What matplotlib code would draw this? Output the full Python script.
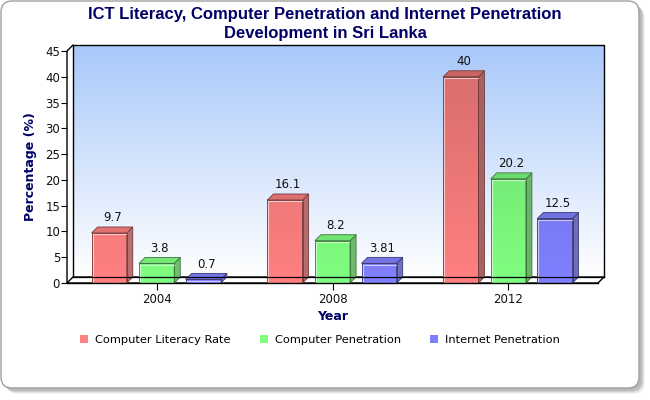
import numpy as np
import matplotlib
matplotlib.use("Agg")
import matplotlib.pyplot as plt
import matplotlib.transforms as mtransforms
from matplotlib.patches import Polygon, Patch, FancyBboxPatch
from matplotlib.colors import to_rgb

# ---- data ----
years = ["2004", "2008", "2012"]
series = ["Computer Literacy Rate", "Computer Penetration", "Internet Penetration"]
literacy = [9.7, 16.1, 40]
computer = [3.8, 8.2, 20.2]
internet = [0.7, 3.81, 12.5]
values = [literacy, computer, internet]
colors = ["#ff8080", "#80ff80", "#8080ff"]

NAVY = "#000066"
W, H = 650, 400

fig = plt.figure(figsize=(6.5, 4.0), dpi=100)

# rounded frame with drop shadow (pixel coords)
ident = mtransforms.IdentityTransform()
for off, a in [(6, 0.08), (5, 0.12), (4, 0.16), (3, 0.22)]:
    fig.patches.append(FancyBboxPatch((1 + off, 12 - off), 638, 387,
                                      boxstyle="round,pad=0,rounding_size=11",
                                      transform=ident, facecolor="#707070",
                                      edgecolor="none", alpha=a, zorder=-3))
fig.patches.append(FancyBboxPatch((1, 12), 638, 387,
                                  boxstyle="round,pad=0,rounding_size=11",
                                  transform=ident, facecolor="white",
                                  edgecolor="#a0a0a0", lw=1.0, zorder=-2))

ax = fig.add_axes([67 / W, (H - 283) / H, (598 - 67) / W, (283 - 51) / H])
ax.patch.set_visible(False)
for s in ax.spines.values():
    s.set_visible(False)

xmin, xmax = -0.51, 2.51
ymax = 45
dx = 6 / 176.0
dy = 6 * ymax / 232.0

# back wall with gradient
grad = np.linspace(0, 1, 256)[:, None]
top_c = np.array(to_rgb("#a8c8fa"))
bot_c = np.array([1.0, 1.0, 1.0])
img = bot_c[None, None, :] * (1 - grad[:, :, None]) + top_c[None, None, :] * grad[:, :, None]
ax.imshow(img, extent=[xmin + dx, xmax + dx, dy, ymax + dy], origin="lower",
          aspect="auto", zorder=0, clip_on=False)
lk = dict(color="black", lw=1.0, clip_on=False, zorder=1)
ax.plot([xmin + dx, xmin + dx, xmax + dx, xmax + dx],
        [dy, ymax + dy, ymax + dy, dy], **lk)
ax.plot([xmin, xmin, xmin + dx], [0, ymax, ymax + dy], **lk)
ax.add_patch(Polygon([(xmin, 0), (xmax, 0), (xmax + dx, dy), (xmin + dx, dy)],
                     closed=True, facecolor="white", edgecolor="black", lw=1.0,
                     clip_on=False, zorder=1))

# bars
w = 0.2
offsets = [-0.27, 0.0, 0.265]
for i, (vals, c) in enumerate(zip(values, colors)):
    base = np.array(to_rgb(c))
    side = base * 0.6 + 0.15
    topc = base * 0.92
    edge = base * 0.45
    for j, v in enumerate(vals):
        x0 = j + offsets[i] - w / 2
        shade = 1 - 0.16 * v / ymax
        # front face with shading that darkens with height
        ys = np.linspace(0, v, 64)
        fac = 1 - 0.16 * ys / ymax
        col = base[None, :] * fac[:, None]
        ax.imshow(col[:, None, :], extent=[x0, x0 + w, 0, v], origin="lower",
                  aspect="auto", zorder=3, clip_on=False)
        ax.add_patch(Polygon([(x0, 0), (x0 + w, 0), (x0 + w, v), (x0, v)], closed=True,
                             facecolor="none", edgecolor=edge, lw=0.6, zorder=4))
        ax.add_patch(Polygon([(x0 + w, 0), (x0 + w + dx, dy), (x0 + w + dx, v + dy),
                              (x0 + w, v)], closed=True, facecolor=side * shade,
                             edgecolor=edge, lw=0.6, zorder=3))
        ax.add_patch(Polygon([(x0, v), (x0 + dx, v + dy), (x0 + w + dx, v + dy),
                              (x0 + w, v)], closed=True, facecolor=topc * shade,
                             edgecolor=edge, lw=0.6, zorder=3))
        ax.plot([x0 + 0.006, x0 + 0.006, x0 + w - 0.004], [0.3, v - 0.25, v - 0.25],
                color="white", lw=0.8, alpha=0.6, zorder=5)
        ax.text(x0 + w / 2 + dx / 2, v + dy + 0.5, f"{v:g}", ha="center", va="bottom",
                fontsize=8.5, color="#111111", zorder=6)

# front floor line over bars
ax.plot([xmin, xmax], [0, 0], color="black", lw=1.0, clip_on=False, zorder=7)
ax.plot([xmin + dx, xmax + dx], [dy, dy], color="black", lw=0.9, clip_on=False, zorder=7)

ax.set_xlim(xmin, xmax)
ax.set_ylim(0, ymax)
ax.set_yticks(range(0, 46, 5))
ax.set_xticks(range(len(years)))
ax.set_xticklabels(years)
ax.tick_params(axis="y", length=4, width=0.8, pad=1, labelsize=8.5, labelcolor="#111111")
ax.tick_params(axis="x", length=5, width=0.8, pad=2, labelsize=8.5, labelcolor="#111111")

ax.set_ylabel("Percentage (%)", fontsize=9, fontweight="bold", color=NAVY, labelpad=6)
ax.set_xlabel("Year", fontsize=9, fontweight="bold", color=NAVY, labelpad=3)

fig.text(0.5, (H - 24) / H, "ICT Literacy, Computer Penetration and Internet Penetration\n"
         "Development in Sri Lanka", ha="center", va="center", fontsize=12,
         fontweight="bold", color=NAVY, family="Liberation Sans", linespacing=1.3)

handles = [Patch(facecolor=c, edgecolor="none") for c in colors]
fig.legend(handles, series, loc="center", bbox_to_anchor=(320 / W, (H - 340) / H),
           ncol=3, frameon=False, fontsize=8.2, handlelength=0.7, handleheight=0.7,
           handletextpad=0.6, columnspacing=2.6)

fig.savefig("out.png", dpi=100)
